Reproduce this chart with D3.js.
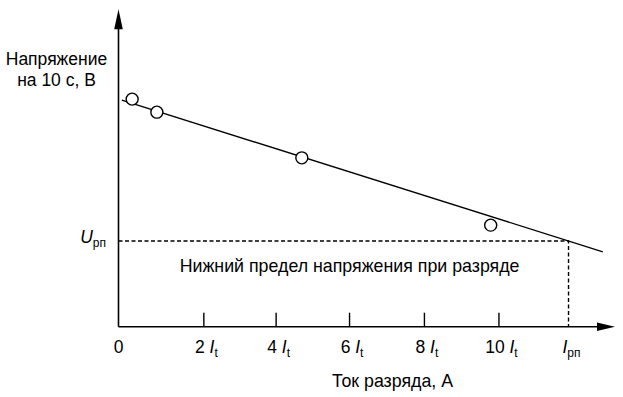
<!DOCTYPE html>
<html>
<head>
<meta charset="utf-8">
<script src="https://cdn.jsdelivr.net/npm/d3@7"></script>
<style>
  body { margin: 0; background: #fff; }
  svg text { font-family: "Liberation Sans", Arial, sans-serif; fill: #000; }
</style>
</head>
<body>
<div id="chart"></div>
<script>
// Current in units of It, voltage in arbitrary units (schematic chart)
const pointCurrent = [0.37, 1.04, 4.97, 10.09];
const pointVoltage = [7.17, 6.76, 5.32, 3.20];
const fitCurrent = [0.09, 13.13];
const fitVoltage = [7.14, 2.36];
const tickCurrent = [0, 2.30, 4.26, 6.25, 8.28, 10.30, 12.20];
const tickNumbers = ['0', '2\u00a0', '4\u00a0', '6\u00a0', '8\u00a0', '10\u00a0', ''];
const tickSubs = ['', 't', 't', 't', 't', 't', 'рп'];
const limitCurrent = 12.20;
const limitVoltage = 2.70;

const width = 623;
const height = 397;

const x = d3.scaleLinear().domain([0, 13.46]).range([118.5, 615]);
const y = d3.scaleLinear().domain([0, 10]).range([326.7, 9.3]);

const svg = d3.select('#chart').append('svg')
  .attr('width', width)
  .attr('height', height);

// dashed limit lines
svg.append('path')
  .attr('d', `M${x(0)},${y(limitVoltage)}H${x(limitCurrent)}V${y(0)}`)
  .attr('fill', 'none')
  .attr('stroke', '#000')
  .attr('stroke-width', 1.4)
  .attr('stroke-dasharray', '4,2.5');

// x axis
const xAxis = svg.append('g')
  .attr('transform', `translate(0,${y(0)})`)
  .call(d3.axisBottom(x)
    .tickValues(tickCurrent.slice(1, 6))
    .tickSizeInner(-14)
    .tickSizeOuter(0)
    .tickPadding(0)
    .tickFormat(''));
xAxis.select('.domain').remove();
xAxis.selectAll('.tick line').attr('stroke', '#000').attr('stroke-width', 1.4);

// tick labels
const labels = svg.append('g')
  .selectAll('text')
  .data(tickCurrent)
  .enter().append('text')
  .attr('x', (d, i) => x(d) + (i === 0 ? 0 : 3))
  .attr('y', 353)
  .attr('text-anchor', 'middle')
  .style('font-size', '17.5px');
labels.each(function (d, i) {
  const t = d3.select(this);
  t.append('tspan').text(tickNumbers[i]);
  if (tickSubs[i]) {
    t.append('tspan').style('font-style', 'italic').text('I');
    t.append('tspan').attr('dy', 4).style('font-size', '12px').text(tickSubs[i]);
  }
});

// axis lines with arrows
svg.append('line')
  .attr('x1', x(0)).attr('x2', x.range()[1] - 10)
  .attr('y1', y(0)).attr('y2', y(0))
  .attr('stroke', '#000').attr('stroke-width', 1.6);
svg.append('path')
  .attr('d', `M${x.range()[1]},${y(0)}l-18,-4.3v8.6z`)
  .attr('fill', '#000');
svg.append('line')
  .attr('x1', x(0)).attr('x2', x(0))
  .attr('y1', y(0)).attr('y2', y.range()[1] + 10)
  .attr('stroke', '#000').attr('stroke-width', 1.6);
svg.append('path')
  .attr('d', `M${x(0)},${y.range()[1]}l-4.3,20h8.6z`)
  .attr('fill', '#000');

// U rp label
const uLabel = svg.append('text')
  .attr('x', 106)
  .attr('y', y(limitVoltage) + 2)
  .attr('text-anchor', 'end')
  .style('font-size', '17.5px');
uLabel.append('tspan').style('font-style', 'italic').text('U');
uLabel.append('tspan').attr('dy', 4).style('font-size', '12px').text('рп');

// fitted line
const line = d3.line()
  .x(d => x(d[0]))
  .y(d => y(d[1]));
svg.append('path')
  .datum(d3.zip(fitCurrent, fitVoltage))
  .attr('d', line)
  .attr('fill', 'none')
  .attr('stroke', '#000')
  .attr('stroke-width', 1.4);

// measured points
svg.selectAll('.pt')
  .data(d3.zip(pointCurrent, pointVoltage))
  .enter().append('circle')
  .attr('class', 'pt')
  .attr('cx', d => x(d[0]))
  .attr('cy', d => y(d[1]))
  .attr('r', 6)
  .attr('fill', '#fff')
  .attr('stroke', '#000')
  .attr('stroke-width', 1.4);

// texts
svg.append('text')
  .attr('x', 349.6).attr('y', 272)
  .attr('text-anchor', 'middle')
  .style('font-size', '17.8px')
  .text('Нижний предел напряжения при разряде');

svg.append('text')
  .attr('x', 392.5).attr('y', 387)
  .attr('text-anchor', 'middle')
  .style('font-size', '17.8px')
  .text('Ток разряда, А');

const yTitle = svg.append('text')
  .attr('text-anchor', 'middle')
  .style('font-size', '17.5px');
yTitle.append('tspan').attr('x', 56.5).attr('y', 65).text('Напряжение');
yTitle.append('tspan').attr('x', 56.5).attr('y', 86).text('на 10 с, В');
</script>
</body>
</html>
